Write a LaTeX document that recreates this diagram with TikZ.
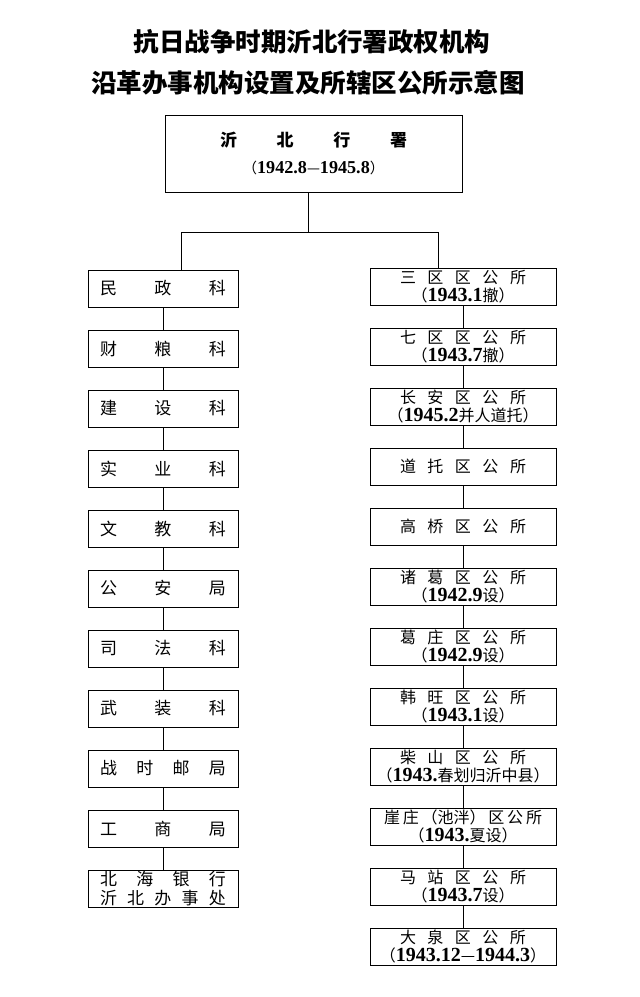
\documentclass[tikz,border=0pt]{standalone}
\usepackage{fontspec}
\setmainfont{Liberation Serif}
\newfontfamily\cjk{Noto Sans CJK SC}
\newfontfamily\numf{Liberation Serif}[Scale=1.25]
\newcommand{\yr}[1]{{\numf\bfseries #1}}
\newcommand{\spreadto}[2]{\hbox to #1{#2}}

\begin{document}
\begin{tikzpicture}[
  x=1pt, y=-1pt,
  line width=0.9pt,
  ttl/.style={font=\cjk\bfseries\fontsize{25.5}{28}\selectfont},
  box/.style={draw, inner sep=0pt, align=center},
  head/.style={box, minimum width=297pt, minimum height=77pt, font=\cjk\fontsize{17}{27}\selectfont},
  dept/.style={box, minimum width=150pt, minimum height=37pt, font=\cjk\fontsize{17}{19}\selectfont},
  office/.style={box, minimum width=186pt, minimum height=37pt, font=\cjk\fontsize{16}{18}\selectfont},
  link/.style={-}
]
\fill[white] (0,0) rectangle (640,997);
\useasboundingbox (0,0) rectangle (640,997);

\node[ttl] (t1) at (312,42) {抗日战争时期沂北行署政权机构};
\node[ttl] (t2) at (308,83) {沿革办事机构设置及所辖区公所示意图};

\node[head] (hq) at (313.5,153.5)
  {\spreadto{187pt}{\bfseries 沂\hfill 北\hfill 行\hfill 署}\\
   {\fontsize{14.5}{27}\selectfont （\yr{1942.8}—\yr{1945.8}）}};

% left column
\node[dept] (l1)  at (163,288.5) {\spreadto{126pt}{民\hfill 政\hfill 科}};
\node[dept] (l2)  at (163,348.5) {\spreadto{126pt}{财\hfill 粮\hfill 科}};
\node[dept] (l3)  at (163,408.5) {\spreadto{126pt}{建\hfill 设\hfill 科}};
\node[dept] (l4)  at (163,468.5) {\spreadto{126pt}{实\hfill 业\hfill 科}};
\node[dept] (l5)  at (163,528.5) {\spreadto{126pt}{文\hfill 教\hfill 科}};
\node[dept] (l6)  at (163,588.5) {\spreadto{126pt}{公\hfill 安\hfill 局}};
\node[dept] (l7)  at (163,648.5) {\spreadto{126pt}{司\hfill 法\hfill 科}};
\node[dept] (l8)  at (163,708.5) {\spreadto{126pt}{武\hfill 装\hfill 科}};
\node[dept] (l9)  at (163,768.5) {\spreadto{126pt}{战\hfill 时\hfill 邮\hfill 局}};
\node[dept] (l10) at (163,828.5) {\spreadto{126pt}{工\hfill 商\hfill 局}};
\node[dept] (l11) at (163,888.5)
  {\spreadto{126pt}{北\hfill 海\hfill 银\hfill 行}\\\spreadto{126pt}{沂\hfill 北\hfill 办\hfill 事\hfill 处}};

% right column
\node[office] (r1)  at (463,286.5)
  {\spreadto{126pt}{三\hfill 区\hfill 区\hfill 公\hfill 所}\\（\yr{1943.1}撤）};
\node[office] (r2)  at (463,346.5)
  {\spreadto{126pt}{七\hfill 区\hfill 区\hfill 公\hfill 所}\\（\yr{1943.7}撤）};
\node[office] (r3)  at (463,406.5)
  {\spreadto{126pt}{长\hfill 安\hfill 区\hfill 公\hfill 所}\\（\yr{1945.2}并人道托）};
\node[office] (r4)  at (463,466.5) {\spreadto{126pt}{道\hfill 托\hfill 区\hfill 公\hfill 所}};
\node[office] (r5)  at (463,526.5) {\spreadto{126pt}{高\hfill 桥\hfill 区\hfill 公\hfill 所}};
\node[office] (r6)  at (463,586.5)
  {\spreadto{126pt}{诸\hfill 葛\hfill 区\hfill 公\hfill 所}\\（\yr{1942.9}设）};
\node[office] (r7)  at (463,646.5)
  {\spreadto{126pt}{葛\hfill 庄\hfill 区\hfill 公\hfill 所}\\（\yr{1942.9}设）};
\node[office] (r8)  at (463,706.5)
  {\spreadto{126pt}{韩\hfill 旺\hfill 区\hfill 公\hfill 所}\\（\yr{1943.1}设）};
\node[office] (r9)  at (463,766.5)
  {\spreadto{126pt}{柴\hfill 山\hfill 区\hfill 公\hfill 所}\\（\yr{1943.}春划归沂中县）};
\node[office] (r10) at (463,826.5)
  {\spreadto{158pt}{崖\hfill 庄\hfill （池泮）\hfill 区\hfill 公\hfill 所}\\（\yr{1943.}夏设）};
\node[office] (r11) at (463,886.5)
  {\spreadto{126pt}{马\hfill 站\hfill 区\hfill 公\hfill 所}\\（\yr{1943.7}设）};
\node[office] (r12) at (463,946.5)
  {\spreadto{126pt}{大\hfill 泉\hfill 区\hfill 公\hfill 所}\\（\yr{1943.12}—\yr{1944.3}）};

% branching
\coordinate (jm) at (308,232);
\coordinate (jl) at (181,232);
\coordinate (jr) at (438,232);
\draw[link] (hq.south -| jm) -- (jm);
\draw[link] (jl |- l1.north) -- (jl) -- (jr) -- (jr |- r1.north);

\draw[link] (l1) -- (l2) (l2) -- (l3) (l3) -- (l4) (l4) -- (l5) (l5) -- (l6)
  (l6) -- (l7) (l7) -- (l8) (l8) -- (l9) (l9) -- (l10) (l10) -- (l11);
\draw[link] (r1) -- (r2) (r2) -- (r3) (r3) -- (r4) (r4) -- (r5) (r5) -- (r6)
  (r6) -- (r7) (r7) -- (r8) (r8) -- (r9) (r9) -- (r10) (r10) -- (r11) (r11) -- (r12);
\end{tikzpicture}
\end{document}
